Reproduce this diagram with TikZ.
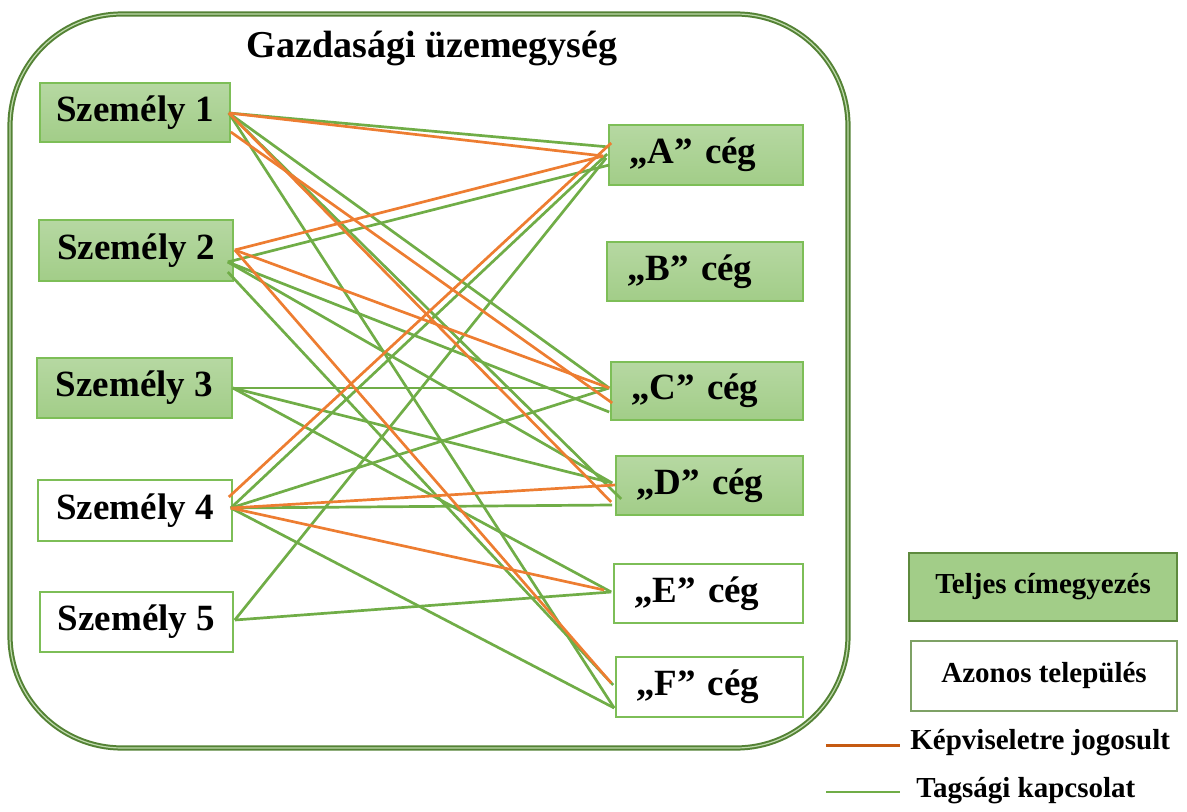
\documentclass[tikz,border=0pt]{standalone}
\usepackage{fontspec}
\setmainfont{Liberation Serif}
\usetikzlibrary{calc}
\definecolor{lnGreen}{HTML}{70AD47}
\definecolor{lnOrange}{HTML}{ED7D31}
\definecolor{legOrange}{HTML}{C55A11}
\definecolor{boxTop}{HTML}{B6D8A2}
\definecolor{boxBot}{HTML}{A2CD88}
\definecolor{boxLine}{HTML}{7DBE57}
\definecolor{frameGreen}{HTML}{548235}
\definecolor{legLine}{HTML}{5E8A3E}
\begin{document}
\begin{tikzpicture}[x=0.5pt,y=-0.5pt,
  filledbox/.style={draw=boxLine, line width=0.8pt, top color=boxTop, bottom color=boxBot, inner sep=0pt},
  plainbox/.style={draw=boxLine, line width=0.8pt, fill=white, inner sep=0pt},
  perstext/.style={font=\bfseries\fontsize{18.5}{22}\selectfont},
  cegtext/.style={font=\bfseries\fontsize{18.5}{22}\selectfont, align=left, inner xsep=10pt, inner ysep=0pt},
  legtext/.style={font=\bfseries\fontsize{14.5}{17}\selectfont},
  gline/.style={draw=lnGreen, line width=1.35pt},
  oline/.style={draw=lnOrange, line width=1.35pt},
  frame/.style={draw=frameGreen, line width=1pt, double=lnGreen!45, double distance=0.6pt, rounded corners=56pt, inner sep=0pt}
]
\useasboundingbox (0,0) rectangle (1187,812);
% frame
\node[frame, minimum width=419pt, minimum height=367pt] (frame) at (429,381) {};
\node[font=\bfseries\fontsize{19}{23}\selectfont] (title) at (432,48) {Gazdasági üzemegység};
% persons
\node[filledbox, perstext, minimum width=95pt, minimum height=29.5pt] (s1) at (135,112.5) {Személy 1};
\node[filledbox, perstext, minimum width=97pt, minimum height=30.5pt] (s2) at (136,250.5) {Személy 2};
\node[filledbox, perstext, minimum width=97.5pt, minimum height=30pt] (s3) at (134.5,388) {Személy 3};
\node[plainbox, perstext, minimum width=97pt, minimum height=30.5pt] (s4) at (135,510.5) {Személy 4};
\node[plainbox, perstext, minimum width=96.5pt, minimum height=30pt] (s5) at (136.5,622) {Személy 5};
% companies
\node[filledbox, cegtext, text width=77pt, minimum height=30pt] (cA) at (706,155) {„A” cég};
\node[filledbox, cegtext, text width=78pt, minimum height=29.5pt] (cB) at (705,271.5) {„B” cég};
\node[filledbox, cegtext, text width=76pt, minimum height=29pt] (cC) at (707,391) {„C” cég};
\node[filledbox, cegtext, text width=73.5pt, minimum height=29.5pt] (cD) at (709.5,485.5) {„D” cég};
\node[plainbox, cegtext, text width=74.5pt, minimum height=29.5pt] (cE) at (708.5,593.5) {„E” cég};
\node[plainbox, cegtext, text width=73.5pt, minimum height=30pt] (cF) at (709.5,687) {„F” cég};
% legend
\node[draw=legLine, line width=0.8pt, fill=boxBot, inner sep=0pt, legtext, minimum width=134pt, minimum height=34pt] (leg1) at (1043,587) {Teljes címegyezés};
\node[draw=legLine!80, line width=0.8pt, fill=white, inner sep=0pt, legtext, minimum width=133pt, minimum height=35pt] (leg2) at (1044,676) {Azonos település};
\coordinate (lo1) at (826,745); \coordinate (lo2) at (900,745);
\coordinate (lg1) at (826,792); \coordinate (lg2) at (900,792);
\draw[draw=legOrange, line width=1.5pt] (lo1) -- (lo2);
\draw[draw=lnGreen, line width=0.9pt] (lg1) -- (lg2);
\node[legtext, anchor=west, inner sep=0pt] (legt1) at (910,743) {Képviseletre jogosult};
\node[legtext, anchor=west, inner sep=0pt] (legt2) at (916,791) {Tagsági kapcsolat};
% connector end points
\coordinate (s1a) at ($(s1.east)+(-2,0.5)$);
\coordinate (s1b) at ($(s1.east)+(0,19.5)$);
\coordinate (s2o) at ($(s2.east)+(1,-0.5)$);
\coordinate (s2g1) at ($(s2.east)+(-6,11.5)$);
\coordinate (s2g2) at ($(s2.east)+(-6,21.5)$);
\coordinate (s3o) at ($(s3.east)+(0,0)$);
\coordinate (s4o) at ($(s4.east)+(-4,-13.5)$);
\coordinate (s4g) at ($(s4.east)+(-2,-2.5)$);
\coordinate (s5o) at ($(s5.east)+(1,-2)$);
\coordinate (Ao1) at ($(cA.west)+(3,-12)$);
\coordinate (Ao2) at ($(cA.west)+(-5,1)$);
\coordinate (Ag1) at ($(cA.west)+(1,-8)$);
\coordinate (Ag2) at ($(cA.west)+(1,10)$);
\coordinate (Ag3) at ($(cA.west)+(-1,-1)$);
\coordinate (Ag4) at ($(cA.west)+(-2,3)$);
\coordinate (Cg1) at ($(cC.west)+(-1,-3)$);
\coordinate (Co1) at ($(cC.west)+(2,12)$);
\coordinate (Cg2) at ($(cC.west)+(-1,21)$);
\coordinate (Dg1) at ($(cD.west)+(-3,-2.5)$);
\coordinate (Dg2) at ($(cD.west)+(6,13.5)$);
\coordinate (Do1) at ($(cD.west)+(0,-0.5)$);
\coordinate (Do2) at ($(cD.west)+(-4,16.5)$);
\coordinate (Dg3) at ($(cD.west)+(-3,19.5)$);
\coordinate (Eg) at ($(cE.west)+(-2,-1.5)$);
\coordinate (Eo) at ($(cE.west)+(-9,-3.5)$);
\coordinate (Fo) at ($(cF.west)+(-4,-4)$);
\coordinate (Fg1) at ($(cF.west)+(-2,-2)$);
\coordinate (Fg2) at ($(cF.west)+(-1,21)$);
% green connectors
\draw[gline] (s1a) -- (Ag1);
\draw[gline] (s1a) -- (Cg1);
\draw[gline] (s1a) -- (Dg2);
\draw[gline] (s1a) -- (Fg2);
\draw[gline] (s2g1) -- (Ag2);
\draw[gline] (s2g1) -- (Cg2);
\draw[gline] (s2g1) -- (Dg1);
\draw[gline] (s2g2) -- (Fg1);
\draw[gline] (s3o) -- (Cg1);
\draw[gline] (s3o) -- (Dg1);
\draw[gline] (s3o) -- (Eg);
\draw[gline] (s4g) -- (Ag3);
\draw[gline] (s4g) -- (Cg1);
\draw[gline] (s4g) -- (Dg3);
\draw[gline] (s4g) -- (Fg2);
\draw[gline] (s5o) -- (Ag4);
\draw[gline] (s5o) -- (Eg);
% orange connectors
\draw[oline] (s1a) -- (Ao2);
\draw[oline] (s1b) -- (Co1);
\draw[oline] (s1a) -- (Do2);
\draw[oline] (s2o) -- (Ao2);
\draw[oline] (s2o) -- (Cg1);
\draw[oline] (s2o) -- (Fo);
\draw[oline] (s4o) -- (Ao1);
\draw[oline] (s4g) -- (Do1);
\draw[oline] (s4g) -- (Eo);
\end{tikzpicture}
\end{document}
